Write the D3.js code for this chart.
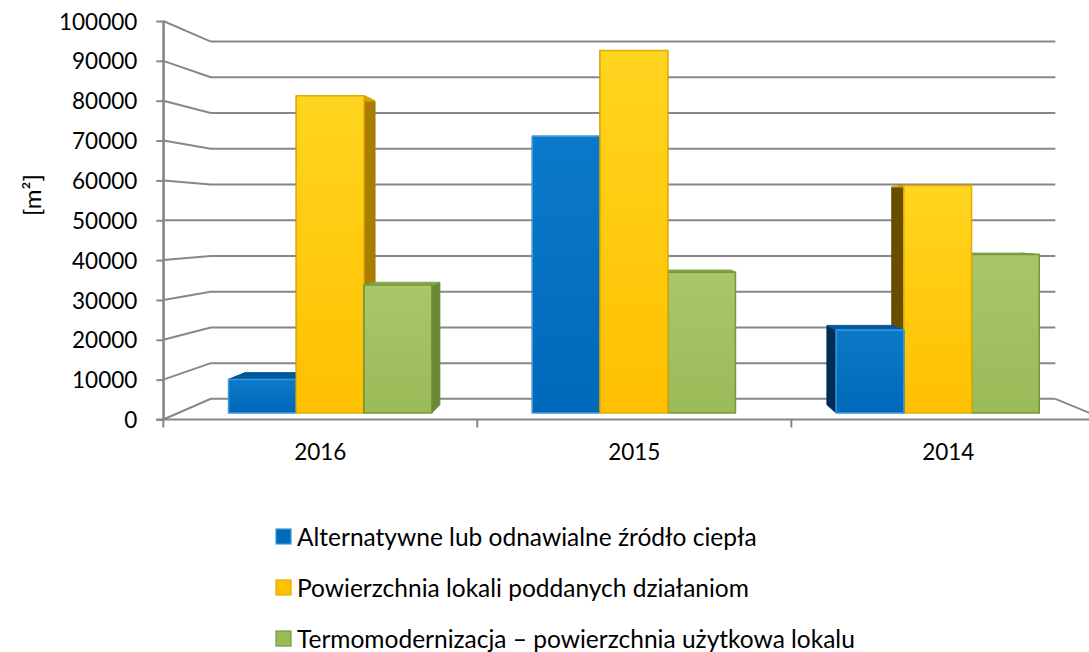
<!DOCTYPE html>
<html>
<head>
<meta charset="utf-8">
<script src="https://cdn.jsdelivr.net/npm/d3@7/dist/d3.min.js"></script>
<style>
  html, body { margin: 0; padding: 0; background: #ffffff; }
  svg { display: block; }
  text { font-family: Lato, "Open Sans", sans-serif; fill: #000; }
</style>
</head>
<body>
<svg id="chart" width="1089" height="652"></svg>
<script>
// ---- data ----
const years = ["2016", "2015", "2014"];
const seriesNames = [
  "Alternatywne lub odnawialne źródło ciepła",
  "Powierzchnia lokali poddanych działaniom",
  "Termomodernizacja – powierzchnia użytkowa lokalu"
];
const alternatywne = [8700, 71800, 21500];
const powierzchnia = [82300, 94000, 59000];
const termomodernizacja = [33200, 36500, 41100];
const yTickValues = [0, 10000, 20000, 30000, 40000, 50000, 60000, 70000, 80000, 90000, 100000];
const yTitle = "[m²]";

// ---- styling per series ----
const palettes = [
  { top: "#0B79C9", bottom: "#0069B9", stroke: "#3C98DE", lid: "#00599C", right: "#004D87", left: "#002E55" },
  { top: "#FFD51F", bottom: "#FFC000", stroke: "#E3AC00", lid: "#D9A200", right: "#A87D00", left: "#6A4E00" },
  { top: "#A8C767", bottom: "#9BBB59", stroke: "#78963E", lid: "#87A64A", right: "#6A8834", left: "#4D6526" }
];

const svg = d3.select("#chart");
const W = 1089, H = 652;

// Vanishing point of the one-point perspective and depth fractions
const VP = [622, 220];
const D_BACK = 0.1034;   // back wall
const D_BAR0 = 0.0326;   // front face of bars
const D_BAR1 = 0.074;    // back face of bars

function proj(X, Y, d) {
  return [X + d * (VP[0] - X), Y + d * (VP[1] - Y)];
}

// front-plane scales
const x0 = d3.scaleBand().domain(years).range([163.3, 1105.3]).padding(0);
const x1 = d3.scaleBand().domain(d3.range(3)).range([0, x0.bandwidth()])
  .paddingInner(0).paddingOuter(0.743);
const y = d3.scaleLinear().domain([0, 100000]).range([419.5, 21]);

const left = x0.range()[0], right = x0.range()[1];
const gridColor = "#878787";

const defs = svg.append("defs");
const clip = defs.append("clipPath").attr("id", "plotclip");
clip.append("rect").attr("x", 0).attr("y", 0).attr("width", W).attr("height", H);

palettes.forEach((p, i) => {
  const g = defs.append("linearGradient").attr("id", "grad" + i)
    .attr("x1", 0).attr("y1", 0).attr("x2", 0).attr("y2", 1);
  g.append("stop").attr("offset", "0%").attr("stop-color", p.top);
  g.append("stop").attr("offset", "100%").attr("stop-color", p.bottom);
});

const line = d3.line();

// ---- walls: gridlines on side wall and back wall ----
const grid = svg.append("g").attr("clip-path", "url(#plotclip)");
grid.selectAll("path.grid").data(yTickValues).enter().append("path")
  .attr("class", "grid")
  .attr("d", t => line([proj(left, y(t), 0), proj(left, y(t), D_BACK), proj(right, y(t), D_BACK)]))
  .attr("fill", "none").attr("stroke", gridColor).attr("stroke-width", 2);

// floor: right edge and front edge
grid.append("path")
  .attr("d", line([proj(right, y(0), D_BACK), proj(right, y(0), 0)]))
  .attr("fill", "none").attr("stroke", gridColor).attr("stroke-width", 2);
grid.append("path")
  .attr("d", line([[left - 7, y(0)], [right, y(0)]]))
  .attr("fill", "none").attr("stroke", gridColor).attr("stroke-width", 2);

// ---- y axis ----
const yAxis = d3.axisLeft(y).tickValues(yTickValues).tickSize(7).tickSizeOuter(0)
  .tickPadding(19).tickFormat(d3.format("d"));
const yg = svg.append("g").attr("transform", `translate(${left},0)`).call(yAxis);
yg.select(".domain").attr("stroke", gridColor).attr("stroke-width", 2);
yg.selectAll(".tick line").attr("stroke", gridColor).attr("stroke-width", 2);
yg.selectAll(".tick text").style("font-size", "22.5px").attr("fill", "#000").attr("dy", "0.36em");

// ---- x axis: boundary ticks + centred labels ----
const xg = svg.append("g").attr("clip-path", "url(#plotclip)");
xg.selectAll("line.xt").data(years.concat(["end"])).enter().append("line")
  .attr("class", "xt")
  .attr("x1", (d, i) => left + i * x0.step())
  .attr("x2", (d, i) => left + i * x0.step())
  .attr("y1", (d, i) => i === 0 ? y(100000) : y(0))
  .attr("y2", y(0) + 8)
  .attr("stroke", gridColor).attr("stroke-width", 2);

const xAxis = d3.axisBottom(x0).tickSize(0).tickPadding(0).tickSizeOuter(0);
const xag = svg.append("g").attr("transform", `translate(0,${y(0)})`).call(xAxis);
xag.select(".domain").remove();
xag.selectAll(".tick text").style("font-size", "22.5px").attr("fill", "#000").attr("dy", "1.78em");

// ---- bars ----
const valueArrays = [alternatywne, powierzchnia, termomodernizacja];
const bars = [];
years.forEach((yr, ci) => {
  valueArrays.forEach((arr, si) => {
    const X0 = x0(yr) + x1(si);
    const X1 = X0 + x1.bandwidth();
    const Yt = y(arr[ci]);
    const Yb = y(0);
    const c = proj((X0 + X1) / 2, Yt, D_BAR0);
    bars.push({ si, X0, X1, Yt, Yb, dist: Math.abs(c[0] - VP[0]) });
  });
});
bars.sort((a, b) => b.dist - a.dist);

const barLayer = svg.append("g");
bars.forEach(b => {
  const p = palettes[b.si];
  const g = barLayer.append("g");
  const fA = proj(b.X0, b.Yt, D_BAR0), fB = proj(b.X1, b.Yt, D_BAR0);
  const fC = proj(b.X1, b.Yb, D_BAR0), fD = proj(b.X0, b.Yb, D_BAR0);
  const bA = proj(b.X0, b.Yt, D_BAR1), bB = proj(b.X1, b.Yt, D_BAR1);
  const bC = proj(b.X1, b.Yb, D_BAR1), bD = proj(b.X0, b.Yb, D_BAR1);
  const faces = [
    { pts: [fA, bA, bD, fD], fill: p.left },
    { pts: [fB, bB, bC, fC], fill: p.right },
    { pts: [fA, fB, bB, bA], fill: p.lid }
  ];
  faces.forEach(f => {
    g.append("path").attr("d", line(f.pts) + "Z")
      .attr("fill", f.fill).attr("stroke", f.fill).attr("stroke-width", 1)
      .attr("stroke-linejoin", "round");
  });
  g.append("path").attr("d", line([fA, fB, fC, fD]) + "Z")
    .attr("fill", `url(#grad${b.si})`).attr("stroke", p.stroke).attr("stroke-width", 1.5);
});

// ---- y title ----
svg.append("text")
  .attr("transform", "translate(41,195) rotate(-90)")
  .attr("text-anchor", "middle")
  .style("font-size", "24px")
  .text(yTitle);

// ---- legend ----
const legend = svg.append("g");
const legendY = [537, 588, 639];
const item = legend.selectAll("g.item").data(seriesNames).enter().append("g")
  .attr("class", "item")
  .attr("transform", (d, i) => `translate(276,${legendY[i]})`);
item.append("rect")
  .attr("x", 0).attr("y", -8).attr("width", 15).attr("height", 15)
  .attr("fill", (d, i) => palettes[i].bottom)
  .attr("stroke", (d, i) => palettes[i].stroke).attr("stroke-width", 1.2);
item.append("text")
  .attr("x", 21).attr("y", 0).attr("dy", "0.35em")
  .style("font-size", "24.5px")
  .text(d => d);
</script>
</body>
</html>
